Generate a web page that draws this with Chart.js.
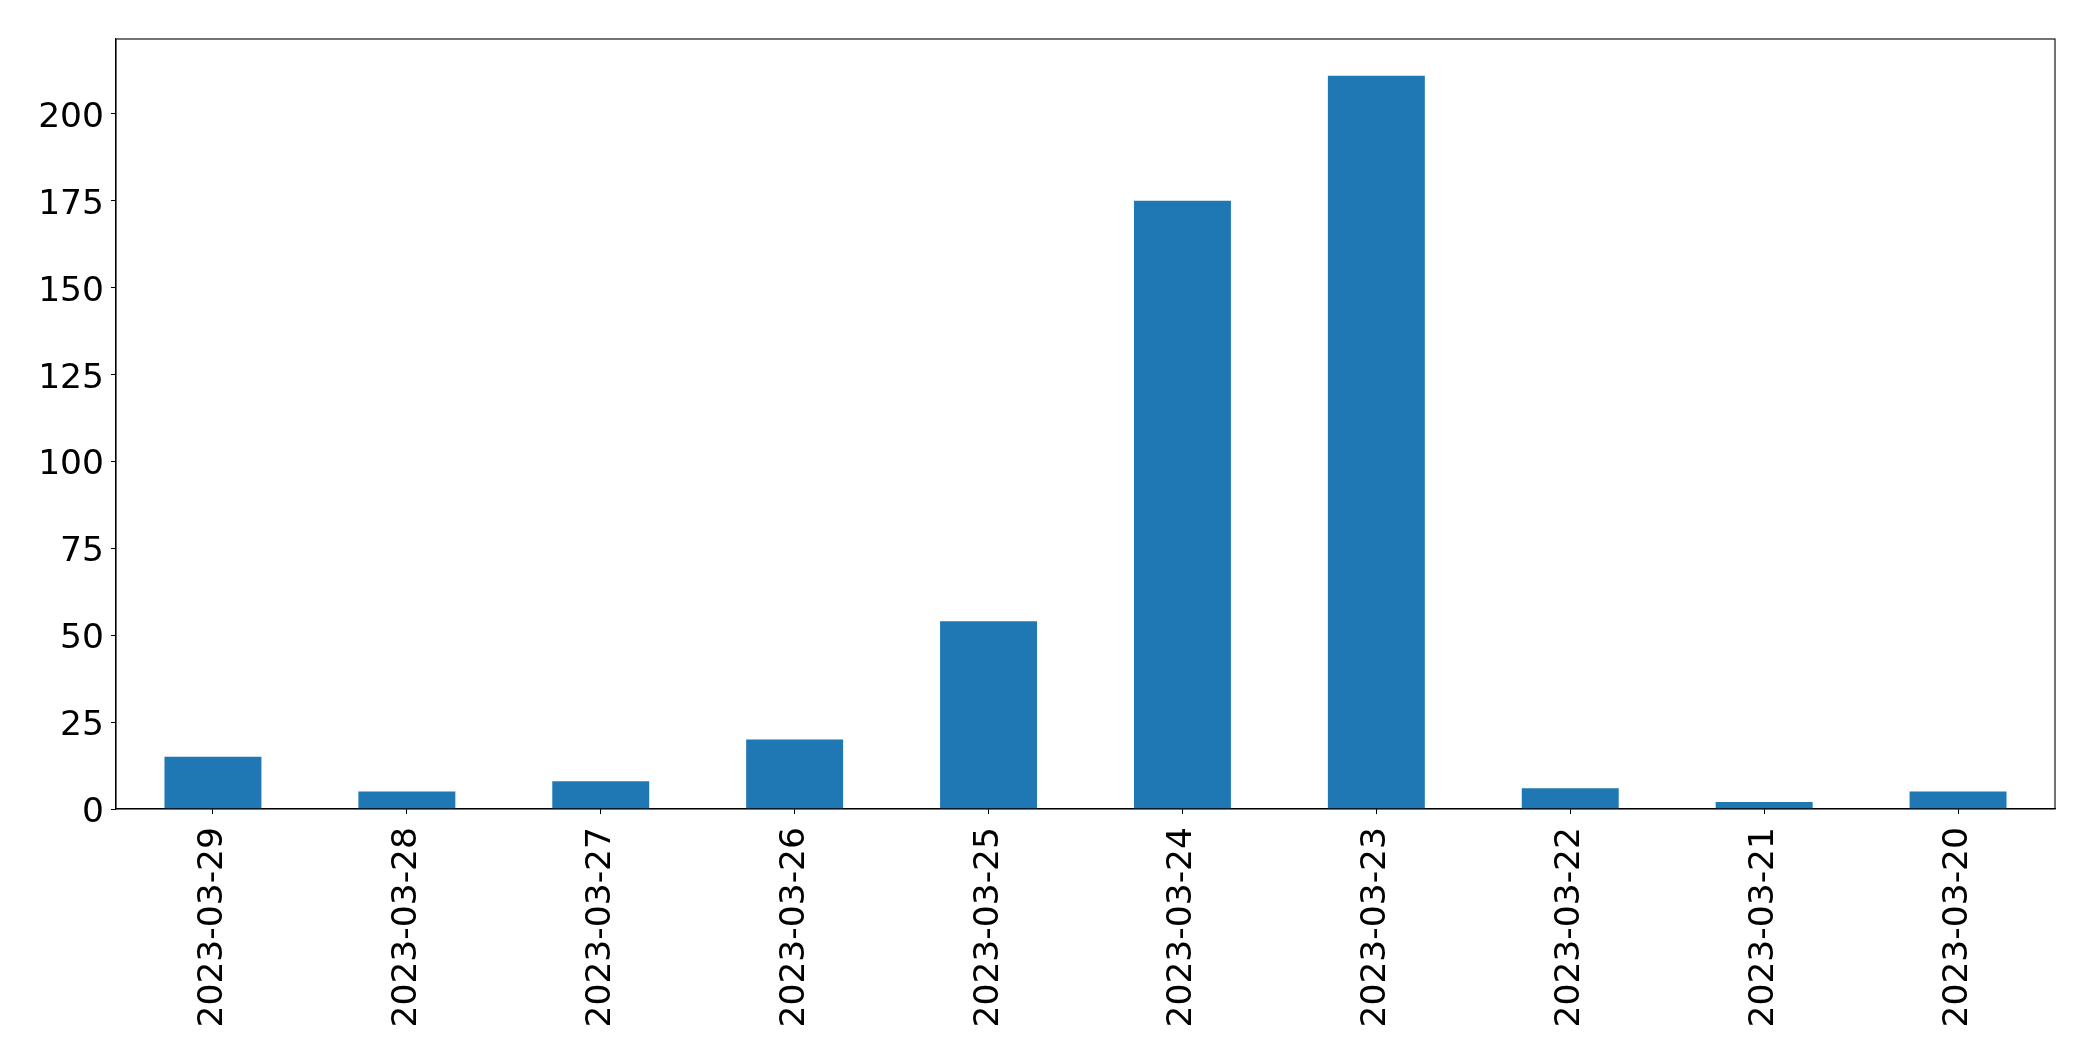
<!DOCTYPE html>
<html>
<head>
<meta charset="utf-8">
<script src="https://cdn.jsdelivr.net/npm/chart.js@4.4.0/dist/chart.umd.min.js"></script>
<style>
  html, body { margin: 0; padding: 0; background: #fff; }
  #wrap { width: 2093px; height: 1061px; }
</style>
</head>
<body>
<div id="wrap"><canvas id="c" width="2093" height="1061"></canvas></div>
<script>
const categories = ["2023-03-29","2023-03-28","2023-03-27","2023-03-26","2023-03-25","2023-03-24","2023-03-23","2023-03-22","2023-03-21","2023-03-20"];
const values = [15, 5, 8, 20, 54, 175, 211, 6, 2, 5];
const yTickStep = 25;

const frame = {
  id: 'frame',
  afterDraw(chart) {
    const a = chart.chartArea, ctx = chart.ctx;
    ctx.save();
    ctx.strokeStyle = '#000';
    ctx.lineWidth = 1.1;
    ctx.strokeRect(a.left, a.top, a.right - a.left, a.bottom - a.top);
    ctx.restore();
  }
};

new Chart(document.getElementById('c'), {
  type: 'bar',
  data: {
    labels: categories,
    datasets: [{ data: values, backgroundColor: '#1f77b4', borderWidth: 0, categoryPercentage: 0.5, barPercentage: 1.0 }]
  },
  options: {
    responsive: false,
    animation: false,
    devicePixelRatio: 1,
    layout: { padding: { top: 39, right: 38, left: 0, bottom: 0 } },
    plugins: { legend: { display: false }, tooltip: { enabled: false } },
    scales: {
      x: {
        offset: true,
        grid: { display: true, offset: false, drawOnChartArea: false, drawTicks: true, tickLength: 5, color: '#000', lineWidth: 1 },
        border: { display: true, color: '#000', width: 1.1 },
        ticks: { color: '#000', font: { family: 'DejaVu Sans', size: 34.5 }, minRotation: 90, maxRotation: 90, padding: 13, autoSkip: false },
        afterFit(s) { s.height = 1061 - 809; }
      },
      y: {
        min: 0,
        max: Math.max(...values) * 1.05,
        grid: { display: true, drawOnChartArea: false, drawTicks: true, tickLength: 5, color: '#000', lineWidth: 1 },
        border: { display: true, color: '#000', width: 1.1 },
        ticks: { stepSize: yTickStep, includeBounds: false, color: '#000', font: { family: 'DejaVu Sans', size: 34.5 }, padding: 7, labelOffset: 4 },
        afterFit(s) { s.width = 116; }
      }
    }
  },
  plugins: [frame]
});
</script>
</body>
</html>
